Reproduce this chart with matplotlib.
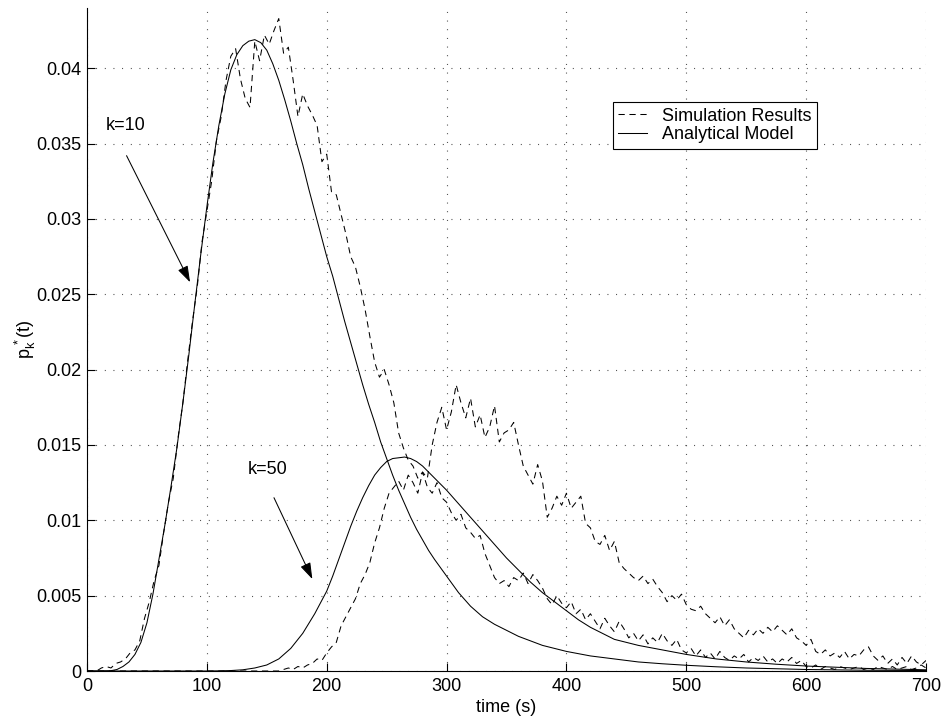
import numpy as np
import matplotlib
matplotlib.use("Agg")
import matplotlib.pyplot as plt

plt.rcParams['font.family'] = ['Liberation Sans', 'DejaVu Sans']
plt.rcParams['mathtext.fontset'] = 'custom'
plt.rcParams['mathtext.rm'] = 'Liberation Sans'
plt.rcParams['mathtext.it'] = 'Liberation Sans'

# ---------------- data ----------------
x_ticks = [0, 100, 200, 300, 400, 500, 600, 700]
y_ticks = [0, 0.005, 0.01, 0.015, 0.02, 0.025, 0.03, 0.035, 0.04]
y_tick_labels = ["0", "0.005", "0.01", "0.015", "0.02", "0.025", "0.03", "0.035", "0.04"]

# Analytical model, k=10
t_model10 = [0, 10, 20, 25, 30, 35, 40, 45, 50, 55, 60, 65, 70, 75, 80, 85, 90, 95, 100,
             105, 110, 115, 120, 125, 130, 135, 140, 145, 150, 155, 160, 165, 170, 175,
             180, 185, 190, 195, 200, 205, 210, 215, 220, 225, 230, 235, 240, 245, 250,
             255, 260, 265, 270, 275, 280, 285, 290, 300, 310, 320, 330, 340, 350, 360,
             370, 380, 390, 400, 420, 440, 460, 480, 500, 525, 550, 575, 600, 650, 700]
p_model10 = [0, 0, 0.00002, 0.0001, 0.0003, 0.0006, 0.0011, 0.0019, 0.0032, 0.0051,
             0.0074, 0.0097, 0.0122, 0.0148, 0.0178, 0.0210, 0.0244, 0.0277, 0.0308,
             0.0337, 0.0362, 0.0383, 0.0399, 0.0409, 0.0415, 0.0418, 0.0419, 0.0417,
             0.0412, 0.0403, 0.0392, 0.0379, 0.0365, 0.0350, 0.0336, 0.0320, 0.0305,
             0.0290, 0.0275, 0.0262, 0.0247, 0.0232, 0.0218, 0.0204, 0.0190, 0.0177,
             0.0165, 0.0152, 0.0141, 0.0130, 0.0120, 0.0111, 0.0102, 0.0094, 0.0087,
             0.0080, 0.0074, 0.0063, 0.0052, 0.0043, 0.0036, 0.0031, 0.0027, 0.0023,
             0.0020, 0.0017, 0.0015, 0.0013, 0.0010, 0.0008, 0.0006, 0.00048, 0.00038,
             0.00028, 0.0002, 0.00015, 0.0001, 0.00005, 0.00003]

# Analytical model, k=50
t_model50 = [0, 100, 110, 120, 130, 140, 150, 160, 170, 180, 190, 200, 205, 210, 215, 220,
             225, 230, 235, 240, 245, 250, 255, 260, 265, 270, 275, 280, 285, 290, 300,
             310, 320, 330, 340, 350, 360, 370, 380, 390, 400, 410, 420, 430, 440, 450,
             460, 480, 500, 525, 550, 575, 600, 650, 700]
p_model50 = [0, 0, 0.00001, 0.00003, 0.00008, 0.0002, 0.0004, 0.0008, 0.0015, 0.0025,
             0.0038, 0.0053, 0.0063, 0.0074, 0.0085, 0.0096, 0.0106, 0.0115, 0.0123,
             0.0130, 0.0135, 0.0139, 0.0141, 0.01415, 0.0142, 0.0141, 0.0139, 0.0136,
             0.0132, 0.0128, 0.0120, 0.0111, 0.0102, 0.0093, 0.0084, 0.0075, 0.0067,
             0.0059, 0.0052, 0.0046, 0.0040, 0.0034, 0.0029, 0.0025, 0.0021, 0.0019,
             0.0017, 0.0014, 0.0011, 0.0008, 0.0006, 0.00045, 0.00033, 0.00017, 0.00008]

# Simulation results (sampled every 4 s, t = 0 ... 700)
t_sim = list(range(0, 701, 4))
p_sim10 = [0, 0, 0, 0.0002, 0.0003, 0.0002, 0.0005, 0.0006, 0.0008, 0.0012,
           0.0014, 0.0020, 0.0035, 0.0046, 0.0060, 0.0070, 0.0092, 0.0112, 0.0128, 0.0155,
           0.0178, 0.0206, 0.0232, 0.0255, 0.0285, 0.0305, 0.0325, 0.0352, 0.0368, 0.0392,
           0.0408, 0.0413, 0.0393, 0.0380, 0.0374, 0.0418, 0.0405, 0.0422, 0.0416, 0.0425,
           0.0433, 0.0410, 0.0414, 0.0392, 0.0368, 0.0383, 0.0375, 0.0369, 0.0362, 0.0338,
           0.0343, 0.0318, 0.0316, 0.0303, 0.0290, 0.0275, 0.0268, 0.0255, 0.0240, 0.0222,
           0.0205, 0.0195, 0.0200, 0.0190, 0.0178, 0.0158, 0.0148, 0.0140, 0.0136, 0.0128,
           0.0132, 0.0122, 0.0118, 0.0125, 0.0115, 0.0112, 0.0105, 0.0100, 0.0104, 0.0095,
           0.0092, 0.0088, 0.0090, 0.0078, 0.0070, 0.0062, 0.0058, 0.0060, 0.0056, 0.0062,
           0.0060, 0.0065, 0.0058, 0.0064, 0.0060, 0.0055, 0.0048, 0.0044, 0.0050, 0.0045,
           0.0042, 0.0046, 0.0038, 0.0041, 0.0034, 0.0038, 0.0033, 0.0028, 0.0035, 0.0030,
           0.0026, 0.0033, 0.0028, 0.0022, 0.0025, 0.0020, 0.0024, 0.0018, 0.0022, 0.0019,
           0.0025, 0.0020, 0.0017, 0.0021, 0.0014, 0.0012, 0.0015, 0.0010, 0.0014, 0.0009,
           0.0012, 0.0008, 0.0013, 0.0009, 0.0007, 0.0010, 0.0008, 0.0011, 0.0006, 0.0009,
           0.0007, 0.0010, 0.0006, 0.0008, 0.0005, 0.0008, 0.0006, 0.0009, 0.0005, 0.0007,
           0.0003, 0.0002, 0.0004, 0.0001, 0.0003, 0.0002, 0.0001, 0.0003, 0.0002, 0.0001,
           0.0002, 0.0003, 0.0001, 0.0002, 0.0001, 0.0003, 0.0002, 0.0001, 0.0003, 0.0001,
           0.0002, 0.0003, 0.0001, 0.0002, 0.0004, 0.0002]
p_sim50 = [0, 0, 0, 0, 0, 0, 0, 0, 0, 0,
           0, 0, 0, 0, 0, 0, 0, 0, 0, 0,
           0, 0, 0, 0, 0, 0, 0, 0, 0, 0,
           0, 0, 0, 0, 0, 0, 0, 0, 0, 0,
           0, 0.0001, 0.0002, 0.0001, 0.0003, 0.0002, 0.0004, 0.0005, 0.0008, 0.0007,
           0.0012, 0.0016, 0.0019, 0.0030, 0.0036, 0.0042, 0.0048, 0.0058, 0.0064, 0.0072,
           0.0085, 0.0095, 0.0108, 0.0118, 0.0122, 0.0126, 0.0120, 0.0130, 0.0125, 0.0118,
           0.0132, 0.0128, 0.0150, 0.0165, 0.0175, 0.0160, 0.0172, 0.0190, 0.0178, 0.0168,
           0.0181, 0.0162, 0.0170, 0.0155, 0.0162, 0.0176, 0.0152, 0.0158, 0.0160, 0.0165,
           0.0150, 0.0136, 0.0130, 0.0124, 0.0137, 0.0126, 0.0102, 0.0108, 0.0116, 0.0110,
           0.0118, 0.0108, 0.0112, 0.0116, 0.0098, 0.0095, 0.0086, 0.0084, 0.0090, 0.0080,
           0.0086, 0.0072, 0.0068, 0.0065, 0.0062, 0.0060, 0.0063, 0.0058, 0.0061, 0.0056,
           0.0052, 0.0046, 0.0050, 0.0047, 0.0051, 0.0044, 0.0041, 0.0040, 0.0043, 0.0038,
           0.0035, 0.0032, 0.0036, 0.0030, 0.0034, 0.0028, 0.0025, 0.0022, 0.0027, 0.0024,
           0.0028, 0.0025, 0.0029, 0.0026, 0.0030, 0.0027, 0.0024, 0.0028, 0.0022, 0.0020,
           0.0017, 0.0021, 0.0013, 0.0011, 0.0014, 0.0010, 0.0012, 0.0009, 0.0013, 0.0008,
           0.0011, 0.0010, 0.0014, 0.0016, 0.0010, 0.0007, 0.0010, 0.0005, 0.0008, 0.0004,
           0.0009, 0.0005, 0.0010, 0.0006, 0.0004, 0.0007]

# annotations: (text, text position, arrow tail, arrow head)
ann_k10 = ("k=10", (16, 0.0362), (33, 0.0342), (86, 0.0258))
ann_k50 = ("k=50", (134, 0.0134), (156, 0.0115), (188, 0.0061))

# ---------------- figure ----------------
FS = 13
fig = plt.figure(figsize=(9.42, 7.23), dpi=100)
ax = fig.add_axes([87 / 942, 52 / 723, 839 / 942, 663 / 723])

dash = (0, (6.0, 4.5))
lw = 0.75
h_sim, = ax.plot(t_sim, p_sim10, color='k', lw=lw, linestyle=dash)
ax.plot(t_sim, p_sim50, color='k', lw=lw, linestyle=dash)
h_mod, = ax.plot(t_model10, p_model10, color='k', lw=lw)
ax.plot(t_model50, p_model50, color='k', lw=lw)

ax.set_xlim(0, 700)
ax.set_ylim(0, 0.044)
ax.set_xticks(x_ticks)
ax.set_xticklabels([str(v) for v in x_ticks])
ax.set_yticks(y_ticks)
ax.set_yticklabels(y_tick_labels)

for s in ['top', 'right']:
    ax.spines[s].set_visible(False)
for s in ['left', 'bottom']:
    ax.spines[s].set_linewidth(0.8)

ax.tick_params(direction='in', length=6, width=0.8, labelsize=FS, pad=4,
               top=False, right=False)
ax.tick_params(axis='x', pad=5)
ax.grid(True, color='#333333', linestyle=(0, (0.8, 7.0)), linewidth=0.8)
ax.set_axisbelow(True)

ax.set_xlabel("time (s)", fontsize=FS, labelpad=3)
ax.set_ylabel(r"$\mathregular{p_k^{\,*}(t)}$", fontsize=FS, labelpad=-1)

for txt, tpos, tail, head in (ann_k10, ann_k50):
    ax.text(tpos[0], tpos[1], txt, fontsize=FS, ha='left', va='center')
    ax.annotate("", xy=head, xytext=tail,
                arrowprops=dict(arrowstyle='-|>,head_length=1.0,head_width=0.33',
                                color='k', lw=0.75, shrinkA=0, shrinkB=0))

leg = ax.legend([h_sim, h_mod], ["Simulation Results", "Analytical Model"],
                loc='upper left', bbox_to_anchor=(0.627, 0.858), borderaxespad=0,
                fancybox=False, framealpha=1, edgecolor='k', fontsize=FS,
                handlelength=1.6, handletextpad=0.8, borderpad=0.3,
                labelspacing=0.1)
leg.get_frame().set_linewidth(0.8)

fig.savefig("out.png", dpi=100)
